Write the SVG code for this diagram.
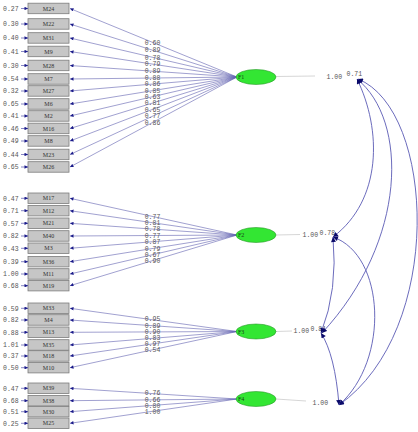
<svg xmlns="http://www.w3.org/2000/svg" width="418" height="432" viewBox="0 0 418 432">
<style>
.box{fill:#c6c6c6;stroke:#7c7c7c;stroke-width:0.8}
.bt{font-family:"Liberation Serif",serif;font-size:6px;fill:#333;text-anchor:middle}
.et{font-family:"Liberation Mono",monospace;font-size:6.5px;fill:#555}
.lt{font-family:"Liberation Mono",monospace;font-size:6.5px;fill:#555;text-anchor:middle}
.ea{stroke:#5555aa;stroke-width:0.7;fill:none;marker-end:url(#ah)}
.ld{stroke:#6262b0;stroke-width:0.6;fill:none;marker-end:url(#ah)}
.fe{fill:#33e633;stroke:#2a9a2a;stroke-width:0.6}
.ft{font-family:"Liberation Serif",serif;font-size:6px;fill:#1a3a1a}
.vl{stroke:#cccccc;stroke-width:0.8;fill:none}
.cv{stroke:#5a5ab4;stroke-width:0.9;fill:none;marker-start:url(#ch);marker-end:url(#ch)}
</style>
<defs>
<marker id="ah" viewBox="0 0 10 10" refX="10" refY="5" markerWidth="4.5" markerHeight="3.5" markerUnits="userSpaceOnUse" orient="auto"><path d="M0,0L10,5L0,10z" fill="#1a1a8a"/></marker>
<marker id="ch" viewBox="0 0 10 10" refX="10" refY="5" markerWidth="6" markerHeight="5" markerUnits="userSpaceOnUse" orient="auto-start-reverse"><path d="M0,0L10,5L0,10z" fill="#0a0a6a"/></marker>
</defs>

<g id="connectors">
<path class="ld" d="M237,77L70,8.5"/><path class="ld" d="M237,77L70,24"/><path class="ld" d="M237,77L70,38"/><path class="ld" d="M237,77L70,51.5"/><path class="ld" d="M237,77L70,65.5"/><path class="ld" d="M237,77L70,79"/><path class="ld" d="M237,77L70,91"/><path class="ld" d="M237,77L70,104"/><path class="ld" d="M237,77L70,116"/><path class="ld" d="M237,77L70,128.5"/><path class="ld" d="M237,77L70,141"/><path class="ld" d="M237,77L70,154.5"/><path class="ld" d="M237,77L70,167"/>
<path class="ld" d="M237,235L70,198.3"/><path class="ld" d="M237,235L70,210.7"/><path class="ld" d="M237,235L70,223.3"/><path class="ld" d="M237,235L70,236"/><path class="ld" d="M237,235L70,248.3"/><path class="ld" d="M237,235L70,261.7"/><path class="ld" d="M237,235L70,274"/><path class="ld" d="M237,235L70,285.7"/>
<path class="ld" d="M237,331.5L70,308.3"/><path class="ld" d="M237,331.5L70,320"/><path class="ld" d="M237,331.5L70,332.3"/><path class="ld" d="M237,331.5L70,345"/><path class="ld" d="M237,331.5L70,356"/><path class="ld" d="M237,331.5L70,367.7"/>
<path class="ld" d="M237,399L70,388.3"/><path class="ld" d="M237,399L70,400.7"/><path class="ld" d="M237,399L70,411.7"/><path class="ld" d="M237,399L70,423.3"/>
<text class="lt" x="152.5" y="44.5">0.60</text><text class="lt" x="152.5" y="52.4">0.89</text><text class="lt" x="152.5" y="59.5">0.78</text><text class="lt" x="152.5" y="66.3">0.79</text><text class="lt" x="152.5" y="73.4">0.89</text><text class="lt" x="152.5" y="80.2">0.88</text><text class="lt" x="152.5" y="86.3">0.86</text><text class="lt" x="152.5" y="92.9">0.85</text><text class="lt" x="152.5" y="98.9">0.63</text><text class="lt" x="152.5" y="105.3">0.81</text><text class="lt" x="152.5" y="111.6">0.65</text><text class="lt" x="152.5" y="118.4">0.77</text><text class="lt" x="152.5" y="124.7">0.86</text>
<text class="lt" x="152.5" y="218.6">0.77</text><text class="lt" x="152.5" y="224.9">0.81</text><text class="lt" x="152.5" y="231.3">0.78</text><text class="lt" x="152.5" y="237.7">0.77</text><text class="lt" x="152.5" y="243.9">0.87</text><text class="lt" x="152.5" y="250.7">0.79</text><text class="lt" x="152.5" y="256.9">0.67</text><text class="lt" x="152.5" y="262.9">0.90</text>
<text class="lt" x="152.5" y="321.2">0.95</text><text class="lt" x="152.5" y="327.6">0.89</text><text class="lt" x="152.5" y="333.8">0.90</text><text class="lt" x="152.5" y="340">0.83</text><text class="lt" x="152.5" y="346">0.97</text><text class="lt" x="152.5" y="352">0.54</text>
<text class="lt" x="152.5" y="395.3">0.76</text><text class="lt" x="152.5" y="401.8">0.66</text><text class="lt" x="152.5" y="407.6">0.80</text><text class="lt" x="152.5" y="413.8">1.00</text>
<path class="vl" d="M276,76.5L315,76"/>
<path class="vl" d="M276,235L300,234.5"/>
<path class="vl" d="M276,331.5L292,331"/>
<path class="vl" d="M276,399L306,401"/>
<text class="et" x="326.5" y="79">1.00</text>
<text class="et" x="346.5" y="76">0.71</text>
<text class="et" x="302.5" y="237">1.00</text>
<text class="et" x="319.5" y="235">0.78</text>
<text class="et" x="293.5" y="333">1.00</text>
<text class="et" x="310.5" y="331">0.81</text>
<text class="et" x="312.5" y="405">1.00</text>
<path class="cv" d="M357,79C382,130 382,200 333,237"/>
<path class="cv" d="M357,79C408,120 408,240 322,333"/>
<path class="cv" d="M358,79C435,110 445,330 339,405"/>
<path class="cv" d="M333,237Q338,290 321,333"/>
<path class="cv" d="M333,237C385,255 390,360 339,405"/>
<path class="cv" d="M321,333Q335,355 339,405"/>
</g>

<g id="F1"><ellipse class="fe" cx="256" cy="77" rx="20" ry="7.5"/><text class="ft" x="238" y="79">F1</text></g>
<g id="F2"><ellipse class="fe" cx="256" cy="235" rx="20" ry="7.5"/><text class="ft" x="238" y="237">F2</text></g>
<g id="F3"><ellipse class="fe" cx="256" cy="331.5" rx="20" ry="7.5"/><text class="ft" x="238" y="333.5">F3</text></g>
<g id="F4"><ellipse class="fe" cx="256" cy="399" rx="20" ry="7.5"/><text class="ft" x="238" y="401">F4</text></g>

<g id="M24"><rect class="box" x="28" y="3.2" width="41" height="10.5"/><text class="bt" x="48.5" y="10.6">M24</text><path class="ea" d="M21,8.5H28"/><text class="et" x="3" y="10.7">0.27</text></g>
<g id="M22"><rect class="box" x="28" y="18.7" width="41" height="10.5"/><text class="bt" x="48.5" y="26.1">M22</text><path class="ea" d="M21,24H28"/><text class="et" x="3" y="26.2">0.30</text></g>
<g id="M31"><rect class="box" x="28" y="32.7" width="41" height="10.5"/><text class="bt" x="48.5" y="40.1">M31</text><path class="ea" d="M21,38H28"/><text class="et" x="3" y="40.2">0.40</text></g>
<g id="M9"><rect class="box" x="28" y="46.2" width="41" height="10.5"/><text class="bt" x="48.5" y="53.6">M9</text><path class="ea" d="M21,51.5H28"/><text class="et" x="3" y="53.7">0.41</text></g>
<g id="M28"><rect class="box" x="28" y="60.2" width="41" height="10.5"/><text class="bt" x="48.5" y="67.6">M28</text><path class="ea" d="M21,65.5H28"/><text class="et" x="3" y="67.7">0.30</text></g>
<g id="M7"><rect class="box" x="28" y="73.7" width="41" height="10.5"/><text class="bt" x="48.5" y="81.1">M7</text><path class="ea" d="M21,79H28"/><text class="et" x="3" y="81.2">0.54</text></g>
<g id="M27"><rect class="box" x="28" y="85.7" width="41" height="10.5"/><text class="bt" x="48.5" y="93.1">M27</text><path class="ea" d="M21,91H28"/><text class="et" x="3" y="93.2">0.32</text></g>
<g id="M6"><rect class="box" x="28" y="98.7" width="41" height="10.5"/><text class="bt" x="48.5" y="106.1">M6</text><path class="ea" d="M21,104H28"/><text class="et" x="3" y="106.2">0.65</text></g>
<g id="M2"><rect class="box" x="28" y="110.7" width="41" height="10.5"/><text class="bt" x="48.5" y="118.1">M2</text><path class="ea" d="M21,116H28"/><text class="et" x="3" y="118.2">0.41</text></g>
<g id="M16"><rect class="box" x="28" y="123.2" width="41" height="10.5"/><text class="bt" x="48.5" y="130.6">M16</text><path class="ea" d="M21,128.5H28"/><text class="et" x="3" y="130.7">0.46</text></g>
<g id="M8"><rect class="box" x="28" y="135.7" width="41" height="10.5"/><text class="bt" x="48.5" y="143.1">M8</text><path class="ea" d="M21,141H28"/><text class="et" x="3" y="143.2">0.49</text></g>
<g id="M23"><rect class="box" x="28" y="149.2" width="41" height="10.5"/><text class="bt" x="48.5" y="156.6">M23</text><path class="ea" d="M21,154.5H28"/><text class="et" x="3" y="156.7">0.44</text></g>
<g id="M26"><rect class="box" x="28" y="161.7" width="41" height="10.5"/><text class="bt" x="48.5" y="169.1">M26</text><path class="ea" d="M21,167H28"/><text class="et" x="3" y="169.2">0.65</text></g>

<g id="M17"><rect class="box" x="28" y="193" width="41" height="10.5"/><text class="bt" x="48.5" y="200.4">M17</text><path class="ea" d="M21,198.3H28"/><text class="et" x="3" y="200.5">0.47</text></g>
<g id="M12"><rect class="box" x="28" y="205.4" width="41" height="10.5"/><text class="bt" x="48.5" y="212.8">M12</text><path class="ea" d="M21,210.7H28"/><text class="et" x="3" y="212.9">0.71</text></g>
<g id="M21"><rect class="box" x="28" y="218" width="41" height="10.5"/><text class="bt" x="48.5" y="225.4">M21</text><path class="ea" d="M21,223.3H28"/><text class="et" x="3" y="225.5">0.57</text></g>
<g id="M40"><rect class="box" x="28" y="230.7" width="41" height="10.5"/><text class="bt" x="48.5" y="238.1">M40</text><path class="ea" d="M21,236H28"/><text class="et" x="3" y="238.2">0.82</text></g>
<g id="M3"><rect class="box" x="28" y="243" width="41" height="10.5"/><text class="bt" x="48.5" y="250.4">M3</text><path class="ea" d="M21,248.3H28"/><text class="et" x="3" y="250.5">0.43</text></g>
<g id="M36"><rect class="box" x="28" y="256.4" width="41" height="10.5"/><text class="bt" x="48.5" y="263.8">M36</text><path class="ea" d="M21,261.7H28"/><text class="et" x="3" y="263.9">0.39</text></g>
<g id="M11"><rect class="box" x="28" y="268.7" width="41" height="10.5"/><text class="bt" x="48.5" y="276.1">M11</text><path class="ea" d="M21,274H28"/><text class="et" x="3" y="276.2">1.00</text></g>
<g id="M19"><rect class="box" x="28" y="280.4" width="41" height="10.5"/><text class="bt" x="48.5" y="287.8">M19</text><path class="ea" d="M21,285.7H28"/><text class="et" x="3" y="287.9">0.68</text></g>

<g id="M33"><rect class="box" x="28" y="303" width="41" height="10.5"/><text class="bt" x="48.5" y="310.4">M33</text><path class="ea" d="M21,308.3H28"/><text class="et" x="3" y="310.5">0.59</text></g>
<g id="M4"><rect class="box" x="28" y="314.7" width="41" height="10.5"/><text class="bt" x="48.5" y="322.1">M4</text><path class="ea" d="M21,320H28"/><text class="et" x="3" y="322.2">0.82</text></g>
<g id="M13"><rect class="box" x="28" y="327" width="41" height="10.5"/><text class="bt" x="48.5" y="334.4">M13</text><path class="ea" d="M21,332.3H28"/><text class="et" x="3" y="334.5">0.88</text></g>
<g id="M35"><rect class="box" x="28" y="339.7" width="41" height="10.5"/><text class="bt" x="48.5" y="347.1">M35</text><path class="ea" d="M21,345H28"/><text class="et" x="3" y="347.2">1.01</text></g>
<g id="M18"><rect class="box" x="28" y="350.7" width="41" height="10.5"/><text class="bt" x="48.5" y="358.1">M18</text><path class="ea" d="M21,356H28"/><text class="et" x="3" y="358.2">0.37</text></g>
<g id="M10"><rect class="box" x="28" y="362.4" width="41" height="10.5"/><text class="bt" x="48.5" y="369.8">M10</text><path class="ea" d="M21,367.7H28"/><text class="et" x="3" y="369.9">0.50</text></g>

<g id="M39"><rect class="box" x="28" y="383" width="41" height="10.5"/><text class="bt" x="48.5" y="390.4">M39</text><path class="ea" d="M21,388.3H28"/><text class="et" x="3" y="390.5">0.47</text></g>
<g id="M38"><rect class="box" x="28" y="395.4" width="41" height="10.5"/><text class="bt" x="48.5" y="402.8">M38</text><path class="ea" d="M21,400.7H28"/><text class="et" x="3" y="402.9">0.68</text></g>
<g id="M30"><rect class="box" x="28" y="406.4" width="41" height="10.5"/><text class="bt" x="48.5" y="413.8">M30</text><path class="ea" d="M21,411.7H28"/><text class="et" x="3" y="413.9">0.51</text></g>
<g id="M25"><rect class="box" x="28" y="418" width="41" height="10.5"/><text class="bt" x="48.5" y="425.4">M25</text><path class="ea" d="M21,423.3H28"/><text class="et" x="3" y="425.5">0.25</text></g>
</svg>
